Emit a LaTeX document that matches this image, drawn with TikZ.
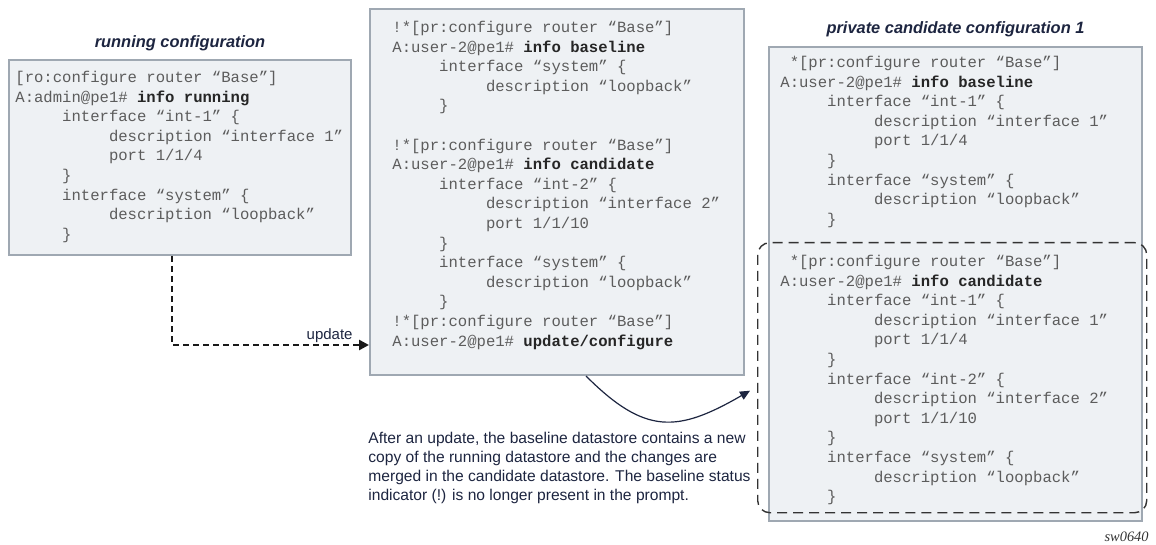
\documentclass[tikz,border=0pt]{standalone}
\usepackage{fontspec}
\setmainfont{Liberation Serif}
\setsansfont{Liberation Sans}
\setmonofont{Liberation Mono}
\usepackage{tikz}
\tikzset{font=\sffamily}
\usetikzlibrary{positioning,arrows.meta}

\definecolor{cfgfill}{HTML}{EEF1F4}
\definecolor{cfgline}{HTML}{9FA8B2}
\definecolor{cfgtext}{HTML}{5C5C5C}
\definecolor{navy}{HTML}{1D2540}

\newcommand{\ia}{\phantom{00000}}
\newcommand{\ib}{\phantom{0000000000}}
\newcommand{\cmd}[1]{\textcolor{black!85}{\bfseries #1}}

\tikzset{
  cfgbox/.style={draw=cfgline, fill=cfgfill, line width=1pt, anchor=north west, inner sep=0pt},
  cfgtext/.style={align=left, inner sep=0pt, text=cfgtext, font=\ttfamily\fontsize{7.8}{9.8}\selectfont},
  cfgtitle/.style={inner sep=0pt, text=navy, font=\sffamily\bfseries\itshape\fontsize{8.2}{10}\selectfont},
  candframe/.style={draw=black!80, line width=0.7pt, dash pattern=on 5pt off 3pt, rounded corners=6pt, anchor=north west, inner sep=0pt},
  note/.style={align=left, inner sep=0pt, text=navy, font=\sffamily\fontsize{7.8}{9.5}\selectfont},
  updline/.style={draw=black!90, line width=1.3pt, dash pattern=on 3pt off 2pt, -{Triangle[length=5pt,width=5pt]}},
  updlabel/.style={inner sep=0pt, text=navy, font=\sffamily\fontsize{7.5}{9}\selectfont},
  mergearrow/.style={draw=navy, line width=0.6pt, -{Triangle[length=5pt,width=4.5pt]}},
  swlabel/.style={inner sep=0pt, text=black!80, font=\rmfamily\itshape\fontsize{7.2}{9}\selectfont}
}

\begin{document}
\begin{tikzpicture}[x=0.5pt,y=-0.5pt]
    \useasboundingbox (0,0) rectangle (1156,545);

    % running configuration
    \node[cfgbox, minimum width=171pt, minimum height=97.5pt] (running) at (8,59) {};
    \node[cfgtitle] (runningttl) [above=3.8pt of running] {running configuration};
    \node[cfgtext] (runningtxt) [below right=5.85pt and 3.5pt of running.north west] {[ro:configure router “Base”]\\
A:admin@pe1\# \cmd{info running}\\
\ia interface “int-1” \{\\
\ib description “interface 1”\\
\ib port 1/1/4\\
\ia \}\\
\ia interface “system” \{\\
\ib description “loopback”\\
\ia \}};

    % session of user-2
    \node[cfgbox, minimum width=187pt, minimum height=183pt] (pcmain) at (369,8) {};
    \node[cfgtext] (pcmaintxt) [below right=6.35pt and 11.5pt of pcmain.north west] {!*[pr:configure router “Base”]\\
A:user-2@pe1\# \cmd{info baseline}\\
\ia interface “system” \{\\
\ib description “loopback”\\
\ia \}\\
\mbox{}\\
!*[pr:configure router “Base”]\\
A:user-2@pe1\# \cmd{info candidate}\\
\ia interface “int-2” \{\\
\ib description “interface 2”\\
\ib port 1/1/10\\
\ia \}\\
\ia interface “system” \{\\
\ib description “loopback”\\
\ia \}\\
!*[pr:configure router “Base”]\\
A:user-2@pe1\# \cmd{update/configure}};

    % private candidate
    \node[cfgbox, minimum width=186.5pt, minimum height=237pt] (private) at (768,46) {};
    \node[cfgtitle] (privatettl) [above=4.5pt of private] {private candidate configuration 1};
    \node[cfgtext] (baselinetxt) [below right=4.85pt and 6pt of private.north west] {\phantom{0}*[pr:configure router “Base”]\\
A:user-2@pe1\# \cmd{info baseline}\\
\ia interface “int-1” \{\\
\ib description “interface 1”\\
\ib port 1/1/4\\
\ia \}\\
\ia interface “system” \{\\
\ib description “loopback”\\
\ia \}};

    \node[candframe, minimum width=194.5pt, minimum height=135pt] (candidate) at (757,242) {};
    \node[cfgtext] (candidatetxt) [below right=6.35pt and 11.5pt of candidate.north west] {\phantom{0}*[pr:configure router “Base”]\\
A:user-2@pe1\# \cmd{info candidate}\\
\ia interface “int-1” \{\\
\ib description “interface 1”\\
\ib port 1/1/4\\
\ia \}\\
\ia interface “int-2” \{\\
\ib description “interface 2”\\
\ib port 1/1/10\\
\ia \}\\
\ia interface “system” \{\\
\ib description “loopback”\\
\ia \}};

    \node[note] (updnote) [below right=28pt and -0.5pt of pcmain.south west] {After an update, the baseline datastore contains a new\\
copy of the running datastore and the changes are\\
merged in the candidate datastore. The baseline status\\
indicator (!) is no longer present in the prompt.};

    \node[swlabel] (swid) [below left=5pt and -3pt of private.south east] {sw0640};

    % connectors
    \draw[updline] ([xshift=-4pt]running.south) |- node[updlabel, pos=0.9, above=0.5pt] {update} ([yshift=-76.5pt]pcmain.west);
    \draw[mergearrow] ([xshift=14.5pt]pcmain.south) to[out=-45, in=210, looseness=1.3] ([xshift=-3.5pt,yshift=-6.5pt]candidate.west);
\end{tikzpicture}
\end{document}
